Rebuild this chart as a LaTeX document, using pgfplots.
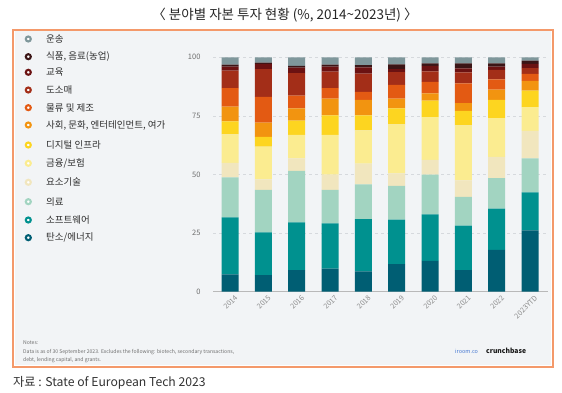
\documentclass[border=0pt]{standalone}
\usepackage{fontspec}
\setmainfont{Noto Sans CJK KR}
\usepackage{pgfplots}
\usepackage{pgfplotstable}
\pgfplotsset{compat=1.18}
\definecolor{cTrans}{HTML}{7F979B}
\definecolor{cFood}{HTML}{3B1516}
\definecolor{cEdu}{HTML}{6B1212}
\definecolor{cRetail}{HTML}{A32E18}
\definecolor{cLogi}{HTML}{E35A13}
\definecolor{cSocial}{HTML}{F29410}
\definecolor{cDigital}{HTML}{FDD520}
\definecolor{cFin}{HTML}{FBEC90}
\definecolor{cDeep}{HTML}{F1E6BE}
\definecolor{cMed}{HTML}{A2D4C1}
\definecolor{cSoft}{HTML}{00918F}
\definecolor{cEnergy}{HTML}{005E73}
\definecolor{frameOr}{HTML}{F4996A}
\definecolor{panel}{HTML}{F2F4F6}
\definecolor{tickgray}{HTML}{6E6E6E}
\definecolor{gridgray}{HTML}{D6D9DD}
\pgfplotstableread{
x energy software medical deep fin digital social logistics retail edu food transport
0 7.4 24.3 17.1 6.2 12.1 5.6 6.3 7.8 7.5 1.7 0.9 3.1
1 7.1 18.2 18.1 4.5 14.0 4.1 6.1 11.0 11.9 2.2 0.5 2.3
2 9.2 20.4 21.9 5.4 10.0 6.1 5.2 5.4 9.6 2.4 0.7 3.7
3 9.8 19.4 14.2 6.5 17.0 8.3 7.2 4.4 7.1 2.1 0.9 3.1
4 8.7 22.3 14.8 8.8 14.2 6.4 6.6 3.5 7.7 2.7 1.0 3.3
5 11.8 18.9 14.4 5.4 20.9 6.8 4.2 5.8 5.5 1.3 2.0 3.0
6 13.1 19.9 16.9 6.3 18.3 7.0 3.1 4.9 4.5 2.3 1.1 2.6
7 9.2 19.0 12.3 7.0 23.5 6.1 3.3 8.5 4.7 1.7 2.1 2.6
8 17.8 17.6 13.1 9.0 16.6 7.7 4.4 4.4 4.0 1.4 1.4 2.6
9 26.2 16.2 14.5 11.7 10.1 7.1 4.1 3.0 2.5 1.8 1.4 1.4
}\datatable
\begin{document}
\begin{tikzpicture}
\useasboundingbox (0,0) rectangle (562pt,393pt);
\fill[white] (0,0) rectangle (562pt,393pt);
% title
\node[font=\fontsize{13.5}{15}\selectfont, text=black!85] at (285pt,378pt) {〈 분야별 자본 투자 현황 (\%, 2014\textasciitilde 2023년) 〉};
% frame
\fill[panel] (15pt,27.5pt) rectangle (551pt,361.5pt);
\draw[frameOr, line width=1.6pt] (13pt,26pt) rectangle (553pt,363pt);
% legend
\foreach \yy/\cc/\tt in {39/cTrans/{운송}, 56.7/cFood/{식품, 음료(농업)}, 72.3/cEdu/{교육}, 90/cRetail/{도소매}, 107.7/cLogi/{물류 및 제조}, 125/cSocial/{사회, 문화, 엔터테인먼트, 여가}, 145/cDigital/{디지털 인프라}, 163.3/cFin/{금융/보험}, 182.3/cDeep/{요소기술}, 201.7/cMed/{의료}, 220/cSoft/{소프트웨어}, 237.7/cEnergy/{탄소/에너지}}{
  \draw[\cc, line width=2.1pt, fill=white] (28.3pt,393pt-\yy pt) circle (2.5pt);
  \node[anchor=west, inner sep=0pt, font=\fontsize{9.5}{11}\selectfont, text=black!82] at (46pt,393pt-\yy pt) {\tt};
}
% notes
\node[anchor=west, inner sep=0pt, font=\fontsize{5.1}{6}\selectfont, text=tickgray] at (23pt,50pt) {Notes:};
\node[anchor=west, inner sep=0pt, font=\fontsize{5.1}{6}\selectfont, text=tickgray] at (23pt,41pt) {Data is as of 30 September 2023. Excludes the following: biotech, secondary transactions,};
\node[anchor=west, inner sep=0pt, font=\fontsize{5.1}{6}\selectfont, text=tickgray] at (23pt,32.5pt) {debt, lending capital, and grants.};
\node[anchor=west, inner sep=0pt, font=\fontsize{5.5}{6}\selectfont, text={rgb,255:red,70;green,120;blue,210}] at (455pt,42pt) {iroom.co};
\node[anchor=west, inner sep=0pt, font=\fontsize{6.8}{7}\selectfont\bfseries, text=black!90] at (486pt,42pt) {crunchbase};
% source
\node[anchor=west, inner sep=0pt, font=\fontsize{12.2}{14}\selectfont, text=black!80] at (13pt,10pt) {자료 : State of European Tech 2023};
\begin{axis}[
  at={(213pt,101.3pt)}, anchor=south west,
  scale only axis, width=335pt, height=234.4pt,
  ybar stacked, bar width=17pt,
  xmin=-0.51, xmax=9.54, ymin=0, ymax=100,
  xtick=data,
  xticklabels={2014,2015,2016,2017,2018,2019,2020,2021,2022,2023YTD},
  ytick={0,25,50,75,100},
  /pgf/number format/assume math mode=true,
  axis x line*=bottom, axis y line*=left,
  x axis line style={draw=gray!55, line width=0.8pt, -},
  y axis line style={draw=none},
  major tick length=0pt,
  ymajorgrids, grid style={gridgray, dashed, dash pattern=on 3pt off 3pt, line width=0.6pt},
  yticklabel style={font=\fontsize{7.5}{8}\selectfont, text=tickgray, xshift=-9pt},
  xticklabel style={font=\fontsize{7.2}{8}\selectfont, text=tickgray!80, rotate=45, anchor=north east, inner sep=1pt, yshift=-4pt, xshift=2pt},
  every axis plot/.append style={draw=none},
]
\addplot[fill=cEnergy] table[x=x,y=energy]{\datatable};
\addplot[fill=cSoft] table[x=x,y=software]{\datatable};
\addplot[fill=cMed] table[x=x,y=medical]{\datatable};
\addplot[fill=cDeep] table[x=x,y=deep]{\datatable};
\addplot[fill=cFin] table[x=x,y=fin]{\datatable};
\addplot[fill=cDigital] table[x=x,y=digital]{\datatable};
\addplot[fill=cSocial] table[x=x,y=social]{\datatable};
\addplot[fill=cLogi] table[x=x,y=logistics]{\datatable};
\addplot[fill=cRetail] table[x=x,y=retail]{\datatable};
\addplot[fill=cEdu] table[x=x,y=edu]{\datatable};
\addplot[fill=cFood] table[x=x,y=food]{\datatable};
\addplot[fill=cTrans] table[x=x,y=transport]{\datatable};
\end{axis}
\end{tikzpicture}
\end{document}
